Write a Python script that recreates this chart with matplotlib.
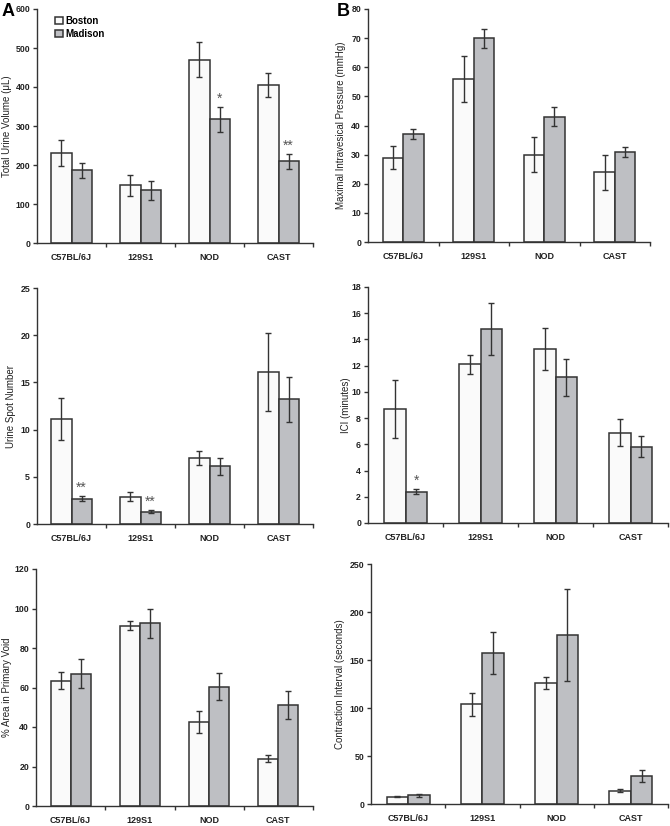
import numpy as np
import matplotlib
matplotlib.use('Agg')
import matplotlib.pyplot as plt

plt.rcParams['font.family'] = ['Liberation Sans', 'DejaVu Sans']

STRAINS = ['C57BL/6J', '129S1', 'NOD', 'CAST']
SERIES = ['Boston', 'Madison']

# total urine volume (uL)
VOL_BOS = [230, 148, 470, 405]
VOL_BOS_ERR = [33, 27, 45, 31]
VOL_MAD = [186, 135, 317, 210]
VOL_MAD_ERR = [20, 25, 33, 19]
VOL_STARS = ['', '', '*', '**']

# maximal intravesical pressure (mmHg)
PRES_BOS = [29, 56, 30, 24]
PRES_BOS_ERR = [4, 8, 6, 6]
PRES_MAD = [37, 70, 43, 31]
PRES_MAD_ERR = [1.8, 3.3, 3.2, 1.7]

# urine spot number
SPOT_BOS = [11.1, 2.9, 7.0, 16.1]
SPOT_BOS_ERR = [2.2, 0.5, 0.7, 4.1]
SPOT_MAD = [2.7, 1.3, 6.1, 13.2]
SPOT_MAD_ERR = [0.3, 0.15, 0.9, 2.4]
SPOT_STARS = ['**', '**', '', '']

# ICI (minutes)
ICI_BOS = [8.7, 12.1, 13.3, 6.9]
ICI_BOS_ERR = [2.2, 0.7, 1.6, 1.0]
ICI_MAD = [2.4, 14.8, 11.1, 5.8]
ICI_MAD_ERR = [0.2, 2.0, 1.4, 0.8]
ICI_STARS = ['*', '', '', '']

# % area in primary void
AREA_BOS = [63.5, 91.3, 42.5, 24.0]
AREA_BOS_ERR = [4.2, 2.2, 5.5, 1.7]
AREA_MAD = [67.0, 92.5, 60.5, 51.3]
AREA_MAD_ERR = [7.5, 7.5, 7.0, 7.0]

# contraction interval (seconds)
CI_BOS = [7.5, 104, 126, 14]
CI_BOS_ERR = [0.7, 12, 6.5, 2]
CI_MAD = [9, 157, 176, 29]
CI_MAD_ERR = [1.2, 22, 48, 6]

W, H = 670, 826
EDGE = '#333333'
WHITE = '#fafafa'
GRAY = '#bebfc3'


def make_axes(fig, left, right, top, bottom):
    ax = fig.add_axes([left / W, 1 - bottom / H, (right - left) / W, (bottom - top) / H])
    ax._px = (left, right)
    return ax


def bar_panel(ax, bos, bos_err, mad, mad_err, ymax, ystep, ylabel, label_x, stars=None):
    x = np.arange(len(STRAINS))
    bw = 0.29
    ekw = dict(ecolor=EDGE, elinewidth=1.0, capsize=2, capthick=1.0)
    ax.bar(x - bw / 2, bos, bw, yerr=bos_err, color=WHITE, edgecolor=EDGE,
           linewidth=1.1, error_kw=ekw, label=SERIES[0], zorder=2)
    ax.bar(x + bw / 2, mad, bw, yerr=mad_err, color=GRAY, edgecolor=EDGE,
           linewidth=1.1, error_kw=ekw, label=SERIES[1], zorder=2)
    if stars:
        for i, s in enumerate(stars):
            if s:
                ax.text(x[i] + bw / 2, mad[i] + mad_err[i] + ymax * 0.005, s,
                        ha='center', va='bottom', fontsize=10, color='#555555')
    ax.set_xlim(-0.5, len(STRAINS) - 0.5)
    ax.set_ylim(0, ymax)
    ax.set_yticks(np.arange(0, ymax + ystep / 2, ystep))
    ax.set_xticks(np.arange(len(STRAINS)) + 0.5)
    ax.set_xticklabels([])
    ax.set_xticks(x, minor=True)
    ax.set_xticklabels(STRAINS, minor=True)
    ax.tick_params(axis='x', which='major', length=3, width=1, color=EDGE, direction='out')
    ax.tick_params(axis='x', which='minor', length=0, pad=7, labelsize=6.5)
    ax.tick_params(axis='y', length=3, width=1, color=EDGE, labelsize=6.3, pad=2)
    for lab in ax.get_xticklabels(minor=True) + ax.get_yticklabels():
        lab.set_fontweight('bold')
        lab.set_color('#222222')
    for side in ['top', 'right']:
        ax.spines[side].set_visible(False)
    for side in ['left', 'bottom']:
        ax.spines[side].set_color(EDGE)
        ax.spines[side].set_linewidth(1.0)
    ax.set_ylabel(ylabel, fontsize=7, color='#222222', va='center')
    left, right = ax._px
    ax.yaxis.set_label_coords((label_x - left) / (right - left), 0.5)


fig = plt.figure(figsize=(W / 100, H / 100), dpi=100)

ax1 = make_axes(fig, 37, 313, 9, 243)
bar_panel(ax1, VOL_BOS, VOL_BOS_ERR, VOL_MAD, VOL_MAD_ERR, 600, 100,
          'Total Urine Volume (\u03bcL)', 7, VOL_STARS)
leg = ax1.legend(loc='upper left', bbox_to_anchor=(0.04, 1.0), frameon=False,
                 fontsize=7, handlelength=0.8, handleheight=0.8, handletextpad=0.3,
                 labelspacing=0.3, borderaxespad=0.3)
for t in leg.get_texts():
    t.set_fontweight('bold')

ax2 = make_axes(fig, 368, 650, 9, 242)
bar_panel(ax2, PRES_BOS, PRES_BOS_ERR, PRES_MAD, PRES_MAD_ERR, 80, 10,
          'Maximal Intravesical Pressure (mmHg)', 341)

ax3 = make_axes(fig, 37, 313, 288, 524)
bar_panel(ax3, SPOT_BOS, SPOT_BOS_ERR, SPOT_MAD, SPOT_MAD_ERR, 25, 5,
          'Urine Spot Number', 11, SPOT_STARS)

ax4 = make_axes(fig, 368, 668, 287, 523)
bar_panel(ax4, ICI_BOS, ICI_BOS_ERR, ICI_MAD, ICI_MAD_ERR, 18, 2,
          'ICI (minutes)', 346, ICI_STARS)

ax5 = make_axes(fig, 36, 313, 569, 806)
bar_panel(ax5, AREA_BOS, AREA_BOS_ERR, AREA_MAD, AREA_MAD_ERR, 120, 20,
          '% Area in Primary Void', 7)

ax6 = make_axes(fig, 371, 668, 564, 804)
bar_panel(ax6, CI_BOS, CI_BOS_ERR, CI_MAD, CI_MAD_ERR, 250, 50,
          'Contraction Interval (seconds)', 340)

fig.text(2 / W, 1 - 11 / H, 'A', fontsize=13, fontweight='bold', va='center', ha='left')
fig.text(337 / W, 1 - 11 / H, 'B', fontsize=13, fontweight='bold', va='center', ha='left')

fig.savefig('out.png', dpi=100)
